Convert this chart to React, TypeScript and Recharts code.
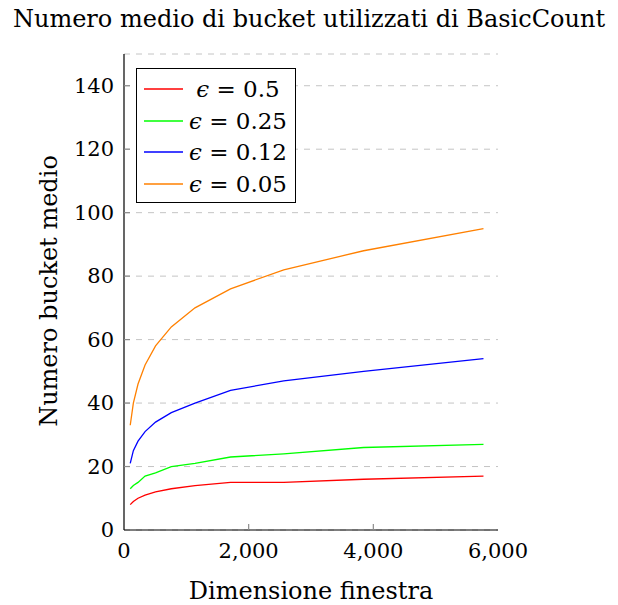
import React from 'react';
import { LineChart, Line, XAxis, YAxis, CartesianGrid } from 'recharts';

// window sizes (x) and mean bucket counts for each epsilon
const windowSizes = [100, 150, 225, 338, 506, 759, 1139, 1709, 2563, 3844, 5767];
const eps050 = [8, 9, 10, 11, 12, 13, 14, 15, 15, 16, 17];
const eps025 = [13, 14, 15, 17, 18, 20, 21, 23, 24, 26, 27];
const eps012 = [21, 25, 28, 31, 34, 37, 40, 44, 47, 50, 54];
const eps005 = [33, 40, 46, 52, 58, 64, 70, 76, 82, 88, 95];

const xTicks = [0, 2000, 4000, 6000];
const yTicks = [0, 20, 40, 60, 80, 100, 120, 140];

const series = [
  { key: 'e050', label: '0.5', color: '#ff0000', values: eps050 },
  { key: 'e025', label: '0.25', color: '#00ff00', values: eps025 },
  { key: 'e012', label: '0.12', color: '#0000ff', values: eps012 },
  { key: 'e005', label: '0.05', color: '#ff8000', values: eps005 },
];

const data = windowSizes.map((x, i) => {
  const row: Record<string, number> = { x };
  series.forEach((s) => {
    row[s.key] = s.values[i];
  });
  return row;
});

const FONT = '"DejaVu Serif", serif';
const TICK_GRAY = '#8c8c8c';
const fmt = (v: number) => v.toLocaleString('en-US');

// pgfplots-style ticks: short marks pointing into the plot box
const BottomTick = ({ x, y, payload }: any) => (
  <g>
    {payload.value > 0 && payload.value < 6000 && (
      <line x1={x} x2={x} y1={y} y2={y - 6} stroke={TICK_GRAY} strokeWidth={1.2} />
    )}
    <text x={x} y={y + 21} textAnchor="middle" dominantBaseline="central" fontFamily={FONT} fontSize={21} fill="#000">
      {fmt(payload.value)}
    </text>
  </g>
);

const TopTick = ({ x, y, payload }: any) =>
  payload.value > 0 && payload.value < 6000 ? (
    <line x1={x} x2={x} y1={y} y2={y + 6} stroke={TICK_GRAY} strokeWidth={1.2} />
  ) : (
    <g />
  );

const LeftTick = ({ x, y, payload }: any) => (
  <g>
    {payload.value > 0 && <line x1={x} x2={x + 6} y1={y} y2={y} stroke={TICK_GRAY} strokeWidth={1.2} />}
    <text x={x - 10} y={y} textAnchor="end" dominantBaseline="central" fontFamily={FONT} fontSize={21} fill="#000">
      {payload.value}
    </text>
  </g>
);

const RightTick = ({ x, y, payload }: any) =>
  payload.value > 0 ? <line x1={x} x2={x - 6} y1={y} y2={y} stroke={TICK_GRAY} strokeWidth={1.2} /> : <g />;

const LegendBox = () => (
  <div
    style={{
      position: 'absolute',
      left: 136,
      top: 68,
      border: '1px solid #000',
      background: '#fff',
      width: 160,
      height: 135,
      padding: '4px 0',
      fontFamily: FONT,
      fontSize: 23,
      boxSizing: 'border-box',
    }}
  >
    {series.map((s) => (
      <div key={s.key} style={{ display: 'flex', alignItems: 'center', height: 31.7 }}>
        <svg width={46} height={4} style={{ display: 'block' }}>
          <line x1={7} x2={46} y1={2} y2={2} stroke={s.color} strokeWidth={1.3} />
        </svg>
        <div style={{ width: 110, textAlign: 'center', whiteSpace: 'nowrap' }}>
          <span style={{ fontStyle: 'italic' }}>ϵ</span> = {s.label}
        </div>
      </div>
    ))}
  </div>
);

export default function App() {
  return (
    <div style={{ position: 'absolute', left: 0, top: 0, width: 618, height: 605, background: '#fff' }}>
      <LineChart
        width={618}
        height={605}
        data={data}
        margin={{ top: 54, right: 120, bottom: 15, left: 44 }}
        style={{ position: 'absolute', left: 0, top: 0 }}
      >
        <CartesianGrid vertical={false} stroke="#c4c4c4" strokeDasharray="6 6" />
        <XAxis
          dataKey="x"
          type="number"
          domain={[0, 6000]}
          ticks={xTicks}
          height={60}
          tickSize={0}
          tickMargin={0}
          tickLine={false}
          axisLine={{ stroke: '#000', strokeWidth: 1.2 }}
          tick={<BottomTick />}
          interval={0}
        />
        <XAxis
          xAxisId="top"
          orientation="top"
          dataKey="x"
          type="number"
          domain={[0, 6000]}
          ticks={xTicks}
          height={0}
          tickSize={0}
          tickMargin={0}
          tickLine={false}
          axisLine={{ stroke: '#000', strokeWidth: 1.2 }}
          tick={<TopTick />}
          interval={0}
        />
        <YAxis
          type="number"
          domain={[0, 150]}
          ticks={yTicks}
          width={80}
          tickSize={0}
          tickMargin={0}
          tickLine={false}
          axisLine={{ stroke: '#000', strokeWidth: 1.2 }}
          tick={<LeftTick />}
          interval={0}
        />
        <YAxis
          yAxisId="right"
          orientation="right"
          type="number"
          domain={[0, 150]}
          ticks={yTicks}
          width={0}
          tickSize={0}
          tickMargin={0}
          tickLine={false}
          axisLine={{ stroke: '#000', strokeWidth: 1.2 }}
          tick={<RightTick />}
          interval={0}
        />
        {series.map((s) => (
          <Line
            key={s.key}
            type="linear"
            dataKey={s.key}
            stroke={s.color}
            strokeWidth={1.3}
            dot={false}
            isAnimationActive={false}
          />
        ))}
      </LineChart>
      <LegendBox />
      <div
        style={{
          position: 'absolute',
          left: 0,
          top: 5,
          width: 618,
          textAlign: 'center',
          fontFamily: FONT,
          fontSize: 24,
          whiteSpace: 'nowrap',
        }}
      >
        Numero medio di bucket utilizzati di BasicCount
      </div>
      <div
        style={{
          position: 'absolute',
          left: 49,
          top: 291,
          transform: 'translate(-50%, -50%) rotate(-90deg)',
          fontFamily: FONT,
          fontSize: 24,
          whiteSpace: 'nowrap',
        }}
      >
        Numero bucket medio
      </div>
      <div
        style={{
          position: 'absolute',
          left: 311,
          top: 591,
          transform: 'translate(-50%, -50%)',
          fontFamily: FONT,
          fontSize: 24,
          whiteSpace: 'nowrap',
        }}
      >
        Dimensione finestra
      </div>
    </div>
  );
}
